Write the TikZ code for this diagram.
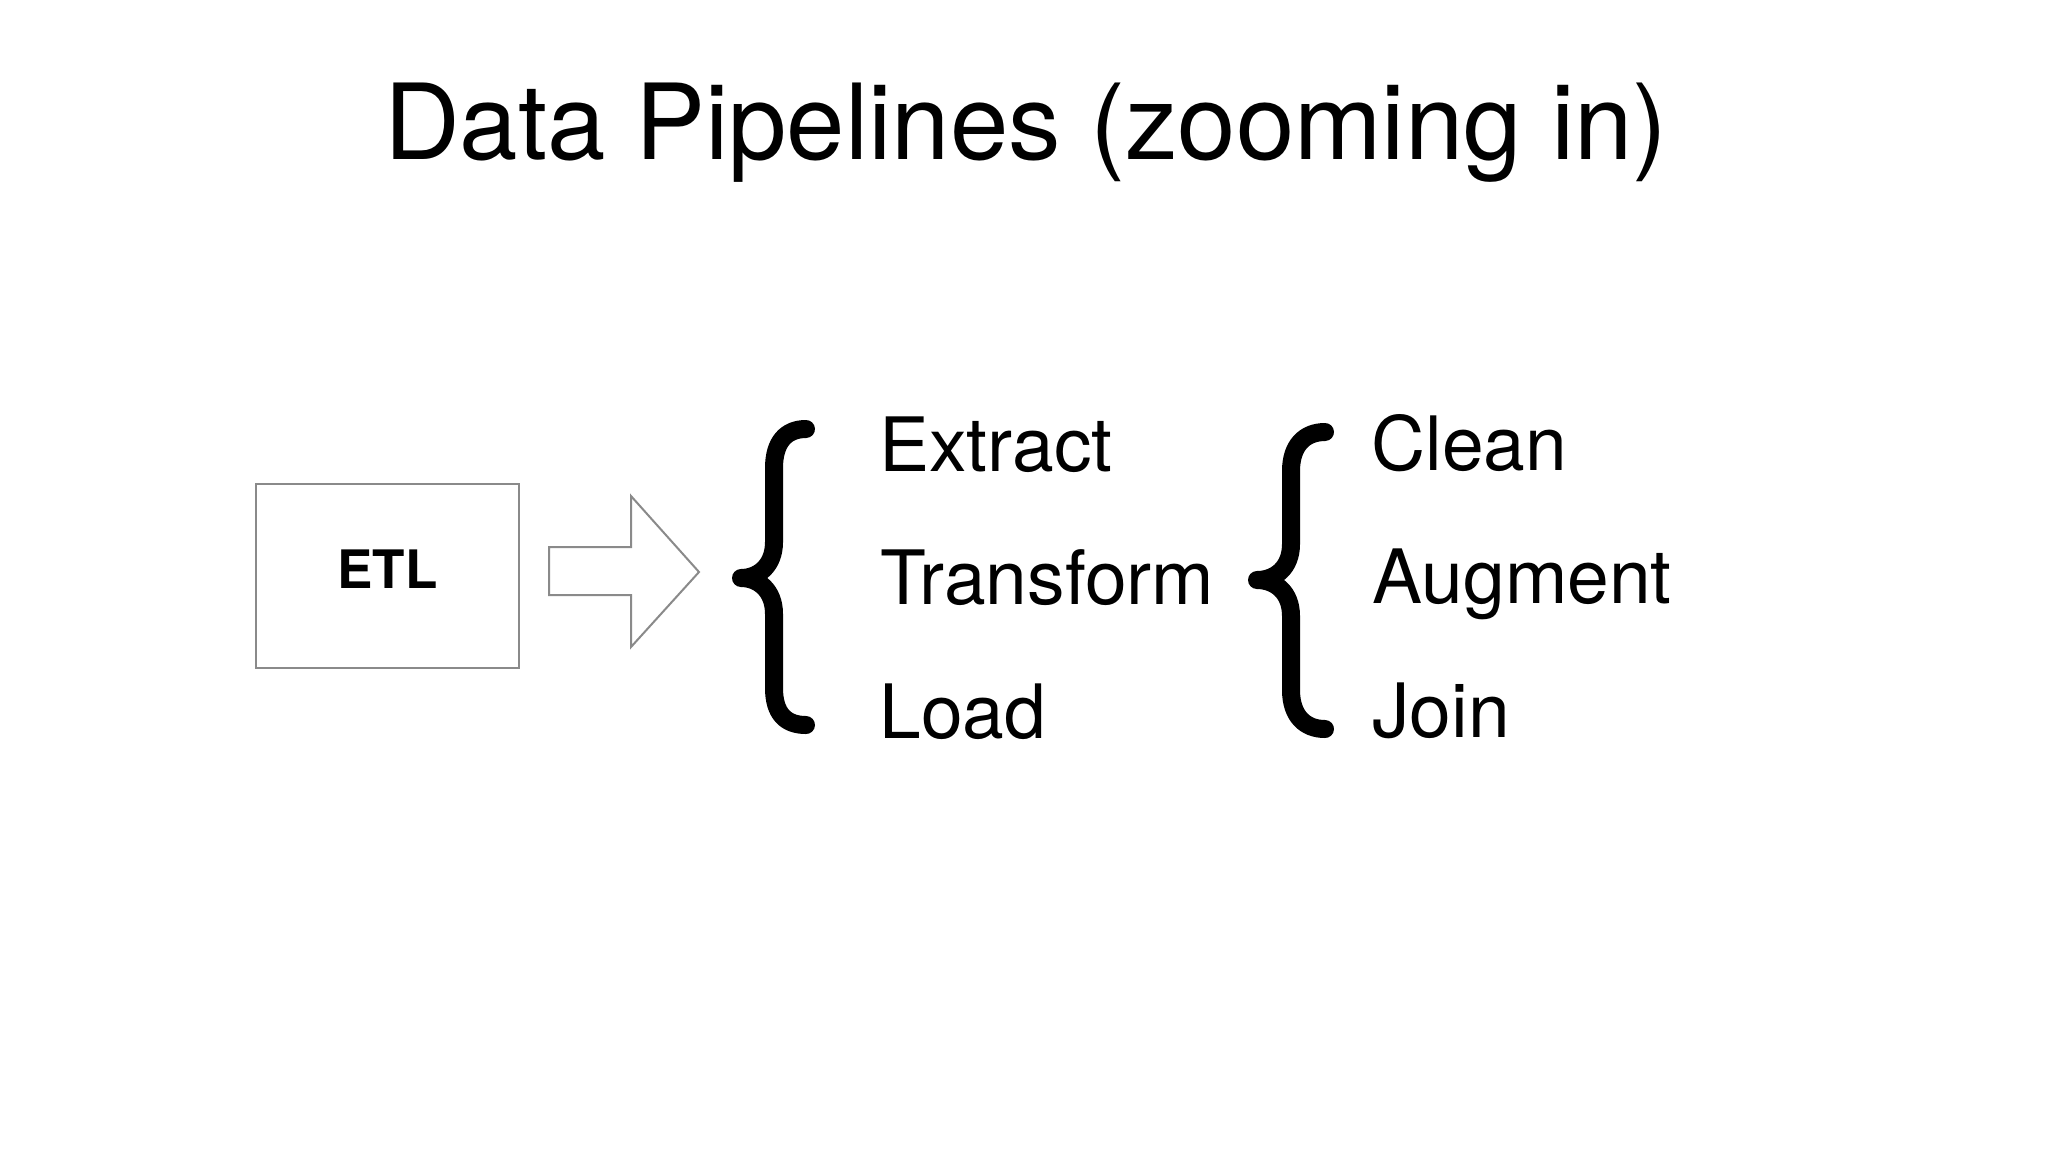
\documentclass[tikz,border=0pt]{standalone}
\usepackage{fontspec}
\setmainfont{TeX Gyre Heros}
\definecolor{boxgray}{HTML}{8A8A8A}
\begin{document}
\begin{tikzpicture}[x=0.5pt,y=-0.5pt,
  titletext/.style={font=\fontsize{52.5}{60}\selectfont, anchor=base, inner sep=0pt},
  itemtext/.style={font=\fontsize{37.5}{44}\selectfont, anchor=base west, inner sep=0pt},
  bracestroke/.style={line width=9pt, line cap=round, line join=round},
  etlbox/.style={draw=boxgray, line width=1pt, minimum width=131.5pt, minimum height=92pt,
     font=\bfseries\fontsize{26.5}{32}\selectfont, text height=19pt, text depth=6pt, inner sep=0pt},
  blockarrow/.style={draw=boxgray, line width=1pt, fill=white, line join=miter}]
\fill[white] (0,0) rectangle (2048,1152);
\useasboundingbox (0,0) rectangle (2048,1152);

\node[titletext] (title) at (1026,159) {Data Pipelines (zooming in)};

\node[etlbox] (etl) at (387.7,575.5) {ETL};

\draw[blockarrow] (549,547) coordinate (arrowtail) -- (631,547) -- (631,496) -- (699,572) coordinate (arrowtip)
   -- (631,647) -- (631,595) -- (549,595) -- cycle;

% first brace
\draw[bracestroke] (806,429) .. controls (786,429) and (774,442) .. (774,468)
   -- (774,542) .. controls (774,566) and (758,578) .. (741,578)
   .. controls (758,578) and (774,590) .. (774,614)
   -- (774,688) .. controls (774,714) and (786,725) .. (806,725);

% second brace
\draw[bracestroke] (1325,432) .. controls (1305,432) and (1291,445) .. (1291,471)
   -- (1291,544) .. controls (1291,568) and (1275,580) .. (1257,580)
   .. controls (1275,580) and (1291,592) .. (1291,616)
   -- (1291,690) .. controls (1291,716) and (1305,729) .. (1325,729);

\node[itemtext] (ext) at (879,471) {Extract};
\node[itemtext] (trn) at (880,604) {Transform};
\node[itemtext] (lod) at (879,738) {Load};

\node[itemtext] (cln) at (1371,470) {Clean};
\node[itemtext] (aug) at (1372,603) {Augment};
\node[itemtext] (joi) at (1372,737) {Join};
\end{tikzpicture}
\end{document}
